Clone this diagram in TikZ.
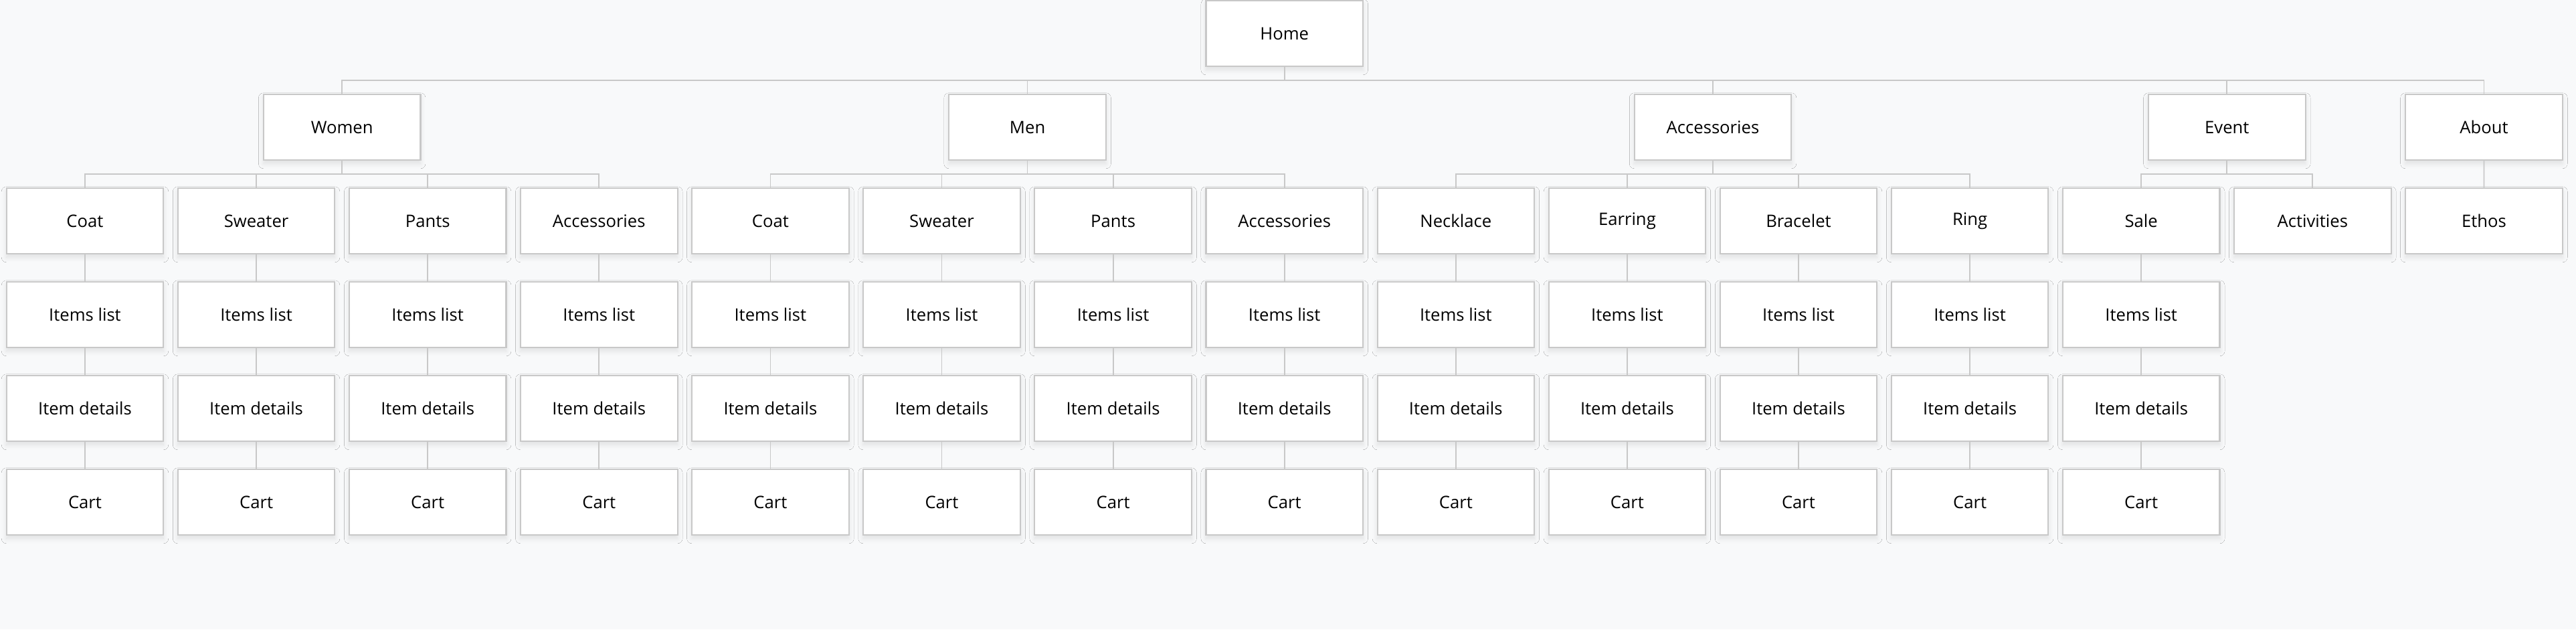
\documentclass[tikz,border=0pt]{standalone}
\usepackage{fontspec}
\setmainfont{Open Sans}
\usetikzlibrary{shadows.blur}
\definecolor{paper}{RGB}{248,249,250}
\definecolor{edge}{RGB}{200,200,200}

\begin{document}
\begin{tikzpicture}[
  font=\fontsize{7.3}{9}\selectfont,
  page/.style={draw=edge,line width=0.6pt,fill=white,minimum width=2.345cm,minimum height=0.98cm,
    inner sep=0pt,outer sep=0pt,
    blur shadow={shadow xshift=0pt,shadow yshift=-1.5pt,shadow blur steps=6,shadow opacity=10}},
  link/.style={draw=edge,line width=0.5pt}
]
\fill[paper] (0,0) rectangle (38.5,-9.4);
\useasboundingbox (0,0) rectangle (38.5,-9.4);

% home
\node[page] (home) at (19.197,-0.50) {Home};

% sections
\node[page] (women) at (5.112,-1.90) {Women};
\node[page] (men) at (15.356,-1.90) {Men};
\node[page] (accessories) at (25.60,-1.90) {Accessories};
\node[page] (event) at (33.283,-1.90) {Event};
\node[page] (about) at (37.124,-1.90) {About};

% categories
\foreach \k/\t in {0/Coat,1/Sweater,2/Pants,3/Accessories,4/Coat,5/Sweater,6/Pants,7/Accessories,
                   8/Necklace,9/Earring,10/Bracelet,11/Ring,12/Sale,13/Activities,14/Ethos}
  \node[page] (sec\k) at ({1.27+2.561*\k},-3.30) {\t};

% item pages
\foreach \k in {0,...,12}{
  \node[page] (list\k) at ({1.27+2.561*\k},-4.70) {Items list};
  \node[page] (item\k) at ({1.27+2.561*\k},-6.10) {Item details};
  \node[page] (cart\k) at ({1.27+2.561*\k},-7.50) {Cart};
  \draw[link] (sec\k) -- (list\k) (list\k) -- (item\k) (item\k) -- (cart\k);
}

% tree links
\foreach \c in {women,men,accessories,event,about}
  \draw[link] (home.south) -- ++(0,-0.21) -| (\c.north);
\foreach \k in {0,...,3}
  \draw[link] (women.south) -- ++(0,-0.21) -| (sec\k.north);
\foreach \k in {4,...,7}
  \draw[link] (men.south) -- ++(0,-0.21) -| (sec\k.north);
\foreach \k in {8,...,11}
  \draw[link] (accessories.south) -- ++(0,-0.21) -| (sec\k.north);
\foreach \k in {12,13}
  \draw[link] (event.south) -- ++(0,-0.21) -| (sec\k.north);
\draw[link] (about) -- (sec14);
\end{tikzpicture}
\end{document}
